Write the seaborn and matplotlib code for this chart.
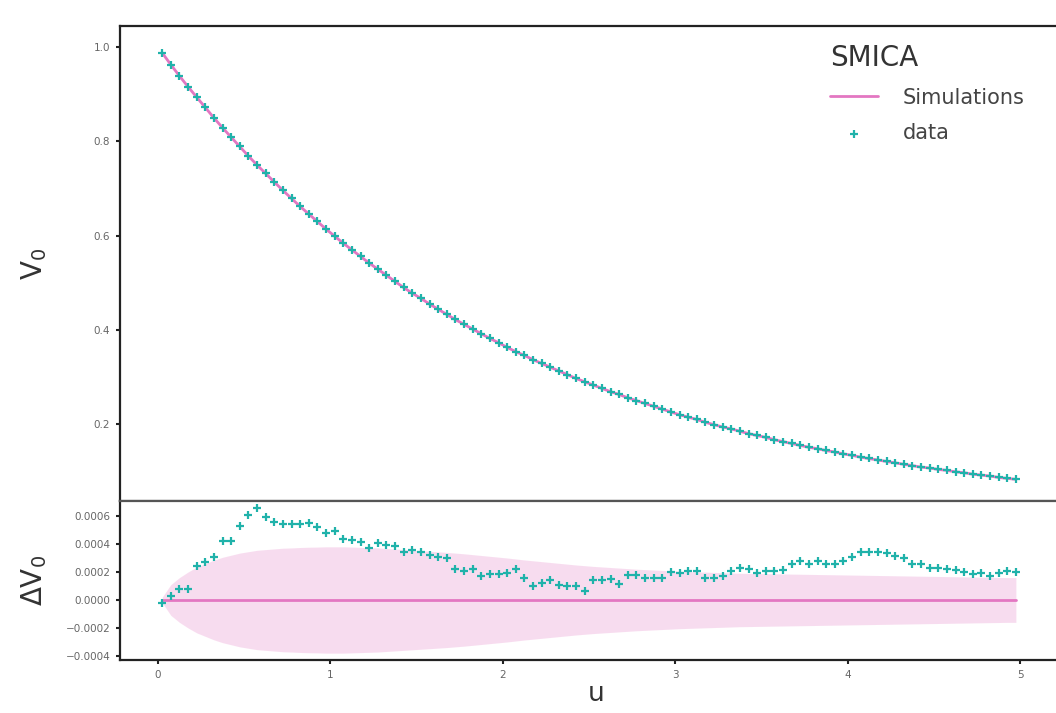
import numpy as np
import matplotlib
matplotlib.use("Agg")
import matplotlib.pyplot as plt
import seaborn as sns

# ---------------- data ----------------
u = [0.025, 0.075, 0.125, 0.175, 0.225, 0.275, 0.325, 0.375, 0.425, 0.475,
     0.525, 0.575, 0.625, 0.675, 0.725, 0.775, 0.825, 0.875, 0.925, 0.975,
     1.025, 1.075, 1.125, 1.175, 1.225, 1.275, 1.325, 1.375, 1.425, 1.475,
     1.525, 1.575, 1.625, 1.675, 1.725, 1.775, 1.825, 1.875, 1.925, 1.975,
     2.025, 2.075, 2.125, 2.175, 2.225, 2.275, 2.325, 2.375, 2.425, 2.475,
     2.525, 2.575, 2.625, 2.675, 2.725, 2.775, 2.825, 2.875, 2.925, 2.975,
     3.025, 3.075, 3.125, 3.175, 3.225, 3.275, 3.325, 3.375, 3.425, 3.475,
     3.525, 3.575, 3.625, 3.675, 3.725, 3.775, 3.825, 3.875, 3.925, 3.975,
     4.025, 4.075, 4.125, 4.175, 4.225, 4.275, 4.325, 4.375, 4.425, 4.475,
     4.525, 4.575, 4.625, 4.675, 4.725, 4.775, 4.825, 4.875, 4.925, 4.975]

# mean of simulations, V0
v0_sim = [0.988, 0.963, 0.939, 0.916, 0.894, 0.872, 0.850, 0.829, 0.809, 0.789,
          0.769, 0.750, 0.732, 0.714, 0.696, 0.679, 0.662, 0.646, 0.630, 0.614,
          0.599, 0.584, 0.570, 0.556, 0.542, 0.529, 0.516, 0.503, 0.490, 0.478,
          0.467, 0.455, 0.444, 0.433, 0.422, 0.412, 0.402, 0.392, 0.382, 0.373,
          0.363, 0.354, 0.346, 0.337, 0.329, 0.321, 0.313, 0.305, 0.297, 0.290,
          0.283, 0.276, 0.269, 0.263, 0.256, 0.250, 0.244, 0.238, 0.232, 0.226,
          0.220, 0.215, 0.210, 0.204, 0.199, 0.194, 0.190, 0.185, 0.180, 0.176,
          0.172, 0.167, 0.163, 0.159, 0.155, 0.151, 0.148, 0.144, 0.141, 0.137,
          0.134, 0.130, 0.127, 0.124, 0.121, 0.118, 0.115, 0.112, 0.109, 0.107,
          0.104, 0.102, 0.099, 0.097, 0.094, 0.092, 0.090, 0.087, 0.085, 0.083]

# residual data - simulations (units of 1e-4)
dv0_data = [-0.2, 0.3, 0.8, 0.8, 2.4, 2.7, 3.1, 4.2, 4.2, 5.3,
            6.1, 6.55, 5.9, 5.6, 5.4, 5.4, 5.4, 5.5, 5.2, 4.75,
            4.9, 4.35, 4.3, 4.15, 3.7, 4.05, 3.9, 3.85, 3.4, 3.55,
            3.45, 3.2, 3.05, 3.0, 2.2, 2.05, 2.2, 1.7, 1.85, 1.85,
            1.9, 2.2, 1.6, 1.0, 1.2, 1.4, 1.1, 1.0, 1.0, 0.65,
            1.4, 1.4, 1.5, 1.15, 1.8, 1.75, 1.55, 1.55, 1.55, 2.0,
            1.95, 2.05, 2.05, 1.6, 1.6, 1.7, 2.1, 2.3, 2.2, 1.9,
            2.1, 2.1, 2.15, 2.6, 2.8, 2.55, 2.8, 2.55, 2.55, 2.75,
            3.05, 3.4, 3.45, 3.4, 3.35, 3.15, 3.0, 2.55, 2.55, 2.3,
            2.25, 2.2, 2.15, 2.0, 1.85, 1.9, 1.7, 1.9, 2.1, 2.0]

# simulation spread (units of 1e-4)
dv0_sigma = [0.2, 1.1, 1.6, 2.0, 2.35, 2.6, 2.85, 3.05, 3.2, 3.35,
             3.45, 3.55, 3.6, 3.65, 3.7, 3.72, 3.75, 3.77, 3.78, 3.8,
             3.8, 3.8, 3.78, 3.76, 3.74, 3.72, 3.68, 3.64, 3.6, 3.56,
             3.52, 3.48, 3.44, 3.4, 3.35, 3.3, 3.24, 3.18, 3.12, 3.06,
             3.0, 2.93, 2.86, 2.8, 2.74, 2.68, 2.62, 2.56, 2.5, 2.45,
             2.4, 2.36, 2.32, 2.28, 2.24, 2.2, 2.17, 2.14, 2.11, 2.08,
             2.05, 2.03, 2.01, 1.99, 1.97, 1.95, 1.93, 1.91, 1.9, 1.89,
             1.88, 1.87, 1.86, 1.85, 1.84, 1.83, 1.82, 1.81, 1.8, 1.79,
             1.78, 1.77, 1.76, 1.75, 1.74, 1.73, 1.72, 1.71, 1.70, 1.69,
             1.68, 1.67, 1.66, 1.65, 1.64, 1.63, 1.62, 1.61, 1.60, 1.60]

x_ticks = [0, 1, 2, 3, 4, 5]
top_yticks = [0.2, 0.4, 0.6, 0.8, 1.0]
bot_yticks = [-0.0004, -0.0002, 0.0, 0.0002, 0.0004, 0.0006]

# ---------------- derived tables ----------------
u_arr = np.array(u)
scale = 1e-4
dv_data = np.array(dv0_data) * scale
sig = np.array(dv0_sigma) * scale
v_sim = np.array(v0_sim)
v_data = v_sim + dv_data
zero_line = np.zeros_like(u_arr)

# ---------------- style ----------------
sns.set_theme(style="ticks")
plt.rcParams['font.family'] = ['DejaVu Sans']

pink = "#e377c2"
teal = "#20b2aa"
spine_col = "#222222"

fig = plt.figure(figsize=(10.56, 7.13), dpi=100)
ax1 = fig.add_axes([0.1136, 0.2973, 0.9015, 0.6662])
ax2 = fig.add_axes([0.1136, 0.0743, 0.9015, 0.2230], sharex=ax1)

# top panel
sns.lineplot(x=u_arr, y=v_sim, ax=ax1, color=pink, lw=2, label="Simulations")
sns.scatterplot(x=u_arr, y=v_data, ax=ax1, marker="+", color=teal, s=32,
                linewidth=1.6, label="data", zorder=3)
ax1.set_xlim(-0.22, 5.3)
ax1.set_ylim(0.037, 1.045)
ax1.set_yticks(top_yticks)
ax1.set_ylabel("V$_0$", fontsize=20, color="#333333")
ax1.tick_params(axis="x", which="both", bottom=False, labelbottom=False)

leg = ax1.legend(title="SMICA", frameon=False, loc="upper left",
                 bbox_to_anchor=(830 / 1056, 1 - 44 / 713),
                 bbox_transform=fig.transFigure, borderaxespad=0, borderpad=0,
                 fontsize=15, title_fontsize=20, handlelength=2.3,
                 handletextpad=1.2, labelspacing=0.75, alignment="left")
leg.get_title().set_color("#333333")
for t in leg.get_texts():
    t.set_color("#444444")

# bottom panel
ax2.fill_between(u_arr, -sig, sig, color=pink, alpha=0.25, lw=0)
sns.lineplot(x=u_arr, y=zero_line, ax=ax2, color=pink, lw=2)
sns.scatterplot(x=u_arr, y=dv_data, ax=ax2, marker="+", color=teal, s=32,
                linewidth=1.6, zorder=3)
ax2.set_ylim(-0.000429, 0.000707)
ax2.set_yticks(bot_yticks)
ax2.set_xticks(x_ticks)
ax2.set_ylabel(r"$\Delta$V$_0$", fontsize=20, color="#333333")
ax2.set_xlabel("u", fontsize=19, color="#333333", labelpad=1)

for ax in (ax1, ax2):
    for s in ax.spines.values():
        s.set_linewidth(1.6)
        s.set_color(spine_col)
    ax.tick_params(axis="both", labelsize=7.5, labelcolor="#666666",
                   length=3, width=1.5, color=spine_col, pad=4)
ax1.spines["bottom"].set_color("#555555")
ax2.spines["top"].set_color("#555555")

ax1.yaxis.set_label_coords(-0.075, 0.5)
ax2.yaxis.set_label_coords(-0.075, 0.5)

fig.savefig("out.png", dpi=100)
